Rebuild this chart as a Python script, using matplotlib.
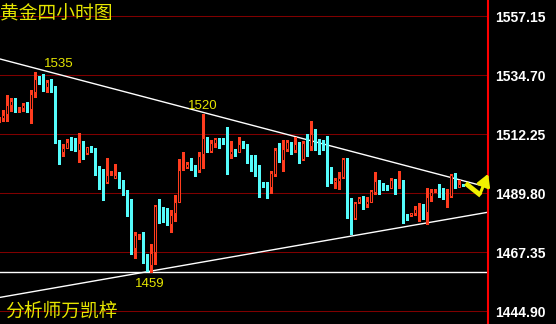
import matplotlib
matplotlib.use("Agg")
import matplotlib.pyplot as plt
import numpy as np

# 4-hour gold candles (open, high, low, close)
opens = [1517.5, 1518.6, 1520.1, 1523.4, 1525.3, 1521.8, 1522.1, 1523.8, 1521.8, 1528.2,
         1533.6, 1532.0, 1530.4, 1532.3, 1528.7, 1508.8, 1505.4, 1507.2, 1509.2, 1507.2,
         1506.3, 1508.8, 1505.0, 1507.6, 1506.9, 1499.6, 1495.3, 1494.0, 1496.8, 1495.8,
         1496.8, 1492.6, 1490.7, 1485.0, 1469.1, 1473.4, 1473.9, 1463.8, 1462.5, 1467.6,
         1485.1, 1482.8, 1482.2, 1478.0, 1482.2, 1486.6, 1499.1, 1499.8, 1500.6, 1499.2,
         1498.7, 1504.6, 1510.7, 1505.9, 1509.1, 1510.5, 1508.9, 1508.8, 1504.6, 1506.3,
         1505.7, 1508.7, 1507.4, 1503.4, 1499.1, 1499.1, 1493.5, 1492.7, 1492.3, 1497.2,
         1506.3, 1502.5, 1506.7, 1509.2, 1506.3, 1508.8, 1502.9, 1508.4, 1507.9, 1512.0,
         1509.2, 1509.2, 1508.8, 1495.0, 1494.2, 1494.5, 1496.1, 1502.9, 1483.1, 1480.3,
         1486.4, 1488.8, 1485.6, 1486.6, 1490.4, 1494.9, 1492.6, 1492.2, 1492.0, 1495.0,
         1493.5, 1494.2, 1481.7, 1481.6, 1482.3, 1483.5, 1483.8, 1482.6, 1488.9, 1490.2,
         1490.4, 1488.9, 1488.5, 1488.9, 1496.8, 1492.3, 1493.2]
highs = [1519.0, 1521.5, 1527.2, 1526.2, 1525.9, 1522.8, 1524.0, 1524.4, 1529.1, 1535.8,
         1534.4, 1535.2, 1532.9, 1533.3, 1530.6, 1510.1, 1508.4, 1510.5, 1511.4, 1510.7,
         1512.6, 1509.7, 1507.6, 1507.9, 1507.2, 1500.3, 1499.1, 1503.4, 1498.3, 1501.0,
         1497.8, 1494.7, 1491.1, 1487.6, 1475.0, 1474.5, 1475.2, 1466.7, 1470.4, 1485.5,
         1487.6, 1484.4, 1484.1, 1483.5, 1489.2, 1502.9, 1505.4, 1501.6, 1503.1, 1500.6,
         1505.4, 1520.0, 1511.4, 1510.1, 1510.7, 1510.7, 1510.7, 1515.2, 1509.7, 1506.5,
         1511.4, 1509.7, 1508.4, 1504.4, 1504.4, 1500.6, 1494.2, 1494.2, 1498.3, 1506.9,
         1508.8, 1510.1, 1510.1, 1509.5, 1511.4, 1509.2, 1509.7, 1512.3, 1517.3, 1514.3,
         1510.5, 1510.0, 1511.6, 1499.8, 1495.8, 1497.8, 1503.4, 1503.4, 1487.9, 1486.6,
         1488.5, 1488.9, 1488.5, 1491.1, 1497.8, 1494.9, 1493.6, 1493.0, 1495.5, 1495.3,
         1498.3, 1494.9, 1482.1, 1482.3, 1485.1, 1486.1, 1485.9, 1492.0, 1491.5, 1491.5,
         1493.5, 1492.0, 1491.5, 1497.0, 1497.6, 1494.7, 1493.5]
lows = [1517.0, 1517.5, 1517.5, 1521.1, 1520.6, 1520.6, 1521.1, 1520.9, 1516.7, 1526.3,
        1531.4, 1528.9, 1528.2, 1528.2, 1509.1, 1501.0, 1504.1, 1506.9, 1506.3, 1505.9,
        1501.6, 1502.9, 1504.8, 1505.7, 1496.8, 1491.5, 1487.3, 1493.6, 1496.8, 1495.5,
        1492.0, 1489.2, 1481.2, 1466.7, 1465.3, 1472.4, 1463.2, 1460.2, 1459.9, 1463.0,
        1478.6, 1479.0, 1477.7, 1475.2, 1479.3, 1486.6, 1498.7, 1499.3, 1498.7, 1496.5,
        1497.8, 1499.3, 1505.7, 1505.7, 1507.6, 1506.9, 1508.4, 1497.0, 1503.4, 1504.1,
        1505.4, 1507.2, 1501.5, 1498.3, 1496.5, 1488.5, 1492.2, 1487.9, 1489.8, 1496.5,
        1501.9, 1498.3, 1505.9, 1504.6, 1505.7, 1501.2, 1502.5, 1504.1, 1506.3, 1506.3,
        1504.6, 1506.3, 1492.7, 1493.6, 1491.7, 1491.5, 1495.8, 1480.3, 1474.3, 1480.0,
        1486.0, 1483.8, 1484.7, 1486.4, 1489.4, 1489.4, 1491.1, 1491.1, 1491.7, 1489.4,
        1492.0, 1478.4, 1479.7, 1481.0, 1481.6, 1479.3, 1480.0, 1478.0, 1486.9, 1490.2,
        1488.5, 1487.6, 1484.4, 1488.5, 1492.0, 1492.3, 1492.6]
closes = [1518.3, 1519.6, 1523.4, 1524.9, 1521.5, 1522.1, 1523.4, 1521.8, 1527.5, 1533.3,
          1532.8, 1530.5, 1532.0, 1528.7, 1509.1, 1505.0, 1506.9, 1509.2, 1506.9, 1506.3,
          1508.8, 1505.0, 1507.3, 1507.2, 1499.6, 1495.8, 1494.2, 1496.8, 1497.2, 1496.8,
          1492.7, 1491.1, 1485.0, 1469.1, 1473.9, 1473.9, 1464.1, 1462.3, 1467.0, 1485.0,
          1482.2, 1482.3, 1478.0, 1481.6, 1486.6, 1498.7, 1499.3, 1500.8, 1499.3, 1498.8,
          1504.1, 1510.7, 1506.3, 1508.8, 1510.3, 1509.2, 1508.7, 1504.6, 1505.9, 1505.0,
          1508.4, 1507.6, 1503.8, 1499.6, 1498.7, 1493.6, 1492.7, 1492.0, 1497.4, 1506.3,
          1502.5, 1506.7, 1509.2, 1506.3, 1508.4, 1502.9, 1508.8, 1507.9, 1512.3, 1508.8,
          1508.7, 1508.7, 1495.3, 1494.5, 1494.9, 1495.8, 1502.9, 1483.5, 1482.2, 1486.0,
          1488.2, 1485.6, 1486.9, 1490.7, 1494.5, 1493.0, 1492.2, 1491.7, 1494.7, 1493.5,
          1493.9, 1482.1, 1481.2, 1482.3, 1483.8, 1483.8, 1482.2, 1488.5, 1490.2, 1490.7,
          1489.2, 1487.9, 1488.8, 1496.8, 1492.7, 1493.5, 1493.0]

price_ticks = [1444.90, 1467.35, 1489.80, 1512.25, 1534.70, 1557.15]

# trendlines as (candle index, price) end points
upper_line = ([0.2, 122.2], [1540.9, 1492.1])
lower_line = ([0.2, 122.2], [1450.2, 1482.6])

UP = '#ff3c1e'
DOWN = '#54fcfc'
YELLOW = '#e6e600'
GRID = '#800000'

o = np.array(opens)
h = np.array(highs)
l = np.array(lows)
c = np.array(closes)
x = np.arange(len(o))
up = c >= o

fig = plt.figure(figsize=(5.56, 3.24), dpi=100, facecolor='black')
ax = fig.add_axes([0, 0, 488 / 556, 1])
ax.set_facecolor('black')

# grid + support / resistance lines
for p in price_ticks:
    ax.axhline(p, color=GRID, lw=0.75, zorder=0)
ax.axhline(l.min(), color='white', lw=1, zorder=1)
ax.plot(*upper_line, color='white', lw=1, zorder=1)
ax.plot(*lower_line, color='white', lw=1, zorder=1)

# wicks
ax.vlines(x[up], l[up], h[up], color=UP, lw=0.8, zorder=2, antialiased=False)
ax.vlines(x[~up], l[~up], h[~up], color=DOWN, lw=0.8, zorder=2, antialiased=False)

# bodies: red hollow, cyan filled
body = np.maximum(np.abs(c - o), 0.35)
ax.bar(x[up], body[up], bottom=np.minimum(o, c)[up], width=0.5,
       facecolor='black', edgecolor=UP, linewidth=0.75, zorder=3)
ax.bar(x[~up], body[~up], bottom=np.minimum(o, c)[~up], width=0.8,
       color=DOWN, linewidth=0, zorder=3, antialiased=False)

# high / low labels
i_hi = int(np.argmax(h[:20]))
ax.annotate('1535', xy=(i_hi, h[i_hi]), xytext=(23, 8), textcoords='offset pixels',
            color=YELLOW, fontsize=9.5, family='Liberation Sans', ha='center', va='center')
i_hi2 = 40 + int(np.argmax(h[40:80]))
ax.annotate('1520', xy=(i_hi2, h[i_hi2]), xytext=(0, 8), textcoords='offset pixels',
            color=YELLOW, fontsize=9.5, family='Liberation Sans', ha='center', va='center')
i_lo = int(np.argmin(l))
ax.annotate('1459', xy=(i_lo, l[i_lo]), xytext=(-2, -12), textcoords='offset pixels',
            color=YELLOW, fontsize=9.5, family='Liberation Sans', ha='center', va='center')

# yellow zigzag arrow at the apex
ax.plot([116.6, 120.4], [1493.6, 1489.0], color='#f0f000', lw=3.5,
        solid_capstyle='butt', zorder=4, clip_on=False)
ax.annotate('', xy=(122.5, 1498.2), xytext=(120.0, 1488.8),
            arrowprops=dict(arrowstyle='-|>,head_length=0.7,head_width=0.4',
                            color='#f0f000', lw=2.2), annotation_clip=False, zorder=4)

ax.set_xlim(0.175, 122.2)
ax.set_ylim(1440.07, 1563.35)

ax.set_xticks([])
ax.set_yticks(price_ticks)
ax.set_yticklabels(['%.2f' % p for p in price_ticks])
ax.yaxis.tick_right()
ax.tick_params(axis='y', length=0, pad=5, labelcolor='white', labelsize=10)
for lab in ax.get_yticklabels():
    lab.set_family('Liberation Sans')
    lab.set_fontweight('bold')

for side in ['left', 'top', 'bottom']:
    ax.spines[side].set_visible(False)
ax.spines['right'].set_color('#ff0000')
ax.spines['right'].set_linewidth(1.5)

cjk = ['Noto Sans CJK SC', 'DejaVu Sans']
fig.text(0.0, 1 - 14 / 324, '黄金四小时图', color=YELLOW, fontsize=13.5,
         family=cjk, ha='left', va='center')
fig.text(5 / 556, 1 - 311 / 324, '分析师万凯梓', color=YELLOW, fontsize=13.5,
         family=cjk, ha='left', va='center')

fig.savefig('out.png', dpi=100, facecolor='black')
